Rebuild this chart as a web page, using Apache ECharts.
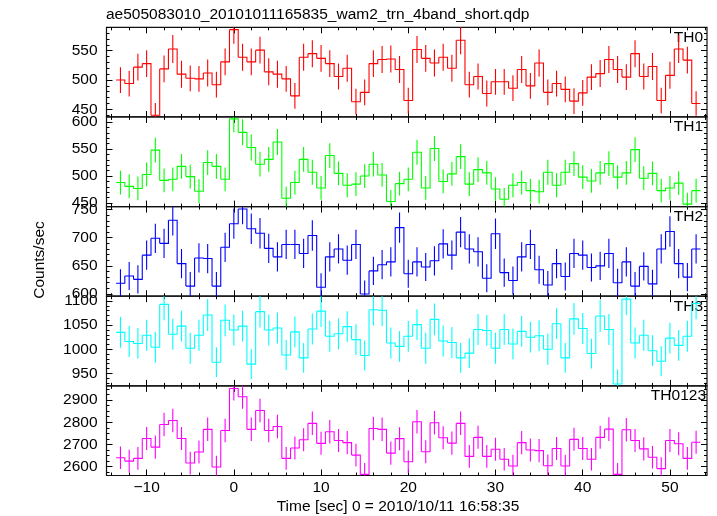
<!DOCTYPE html>
<html><head><meta charset="utf-8">
<script src="https://cdn.jsdelivr.net/npm/echarts@6/dist/echarts.min.js"></script>
<style>html,body{margin:0;padding:0;background:#fff}#c{width:717px;height:516px}</style>
</head><body><div id="c"></div>
<script>
// Bin centres (sec)
const timeBins = [-13,-12,-11,-10,-9,-8,-7,-6,-5,-4,-3,-2,-1,0,1,2,3,4,5,6,7,8,9,10,11,12,13,14,15,16,17,18,19,20,21,22,23,24,25,26,27,28,29,30,31,32,33,34,35,36,37,38,39,40,41,42,43,44,45,46,47,48,49,50,51,52,53];

const th0 = [500,494,522,528,440,519,553,510,503,502,512,492,531,
  586,539,531,551,514,510,502,473,539,545,537,528,506,520,463,479,528,535,536,518,465,
  552,537,529,539,520,568,492,506,477,497,497,486,518,490,529,479,494,484,464,478,505,511,535,518,505,545,506,523,465,508,553,534,460];
const th0Err = [22,22,23,23,21,23,24,23,22,22,23,22,23,
  24,23,23,23,23,23,22,22,23,23,23,23,22,23,22,22,23,23,23,23,22,
  23,23,23,23,23,24,22,22,22,22,22,22,23,22,23,22,22,22,22,22,22,23,23,23,22,23,22,23,22,23,24,23,21];

const th1 = [488,481,477,503,548,492,494,518,499,472,525,518,494,
  606,581,553,522,531,563,459,488,531,507,478,538,505,483,485,500,522,502,453,486,494,
  544,478,551,490,504,536,485,512,506,476,457,483,488,473,471,507,483,507,523,498,491,506,523,498,506,549,496,505,473,478,487,448,473];
const th1Err = [22,22,22,22,23,22,22,23,22,22,23,23,22,
  25,24,24,23,23,24,21,22,23,23,22,23,22,22,22,22,23,22,21,22,22,
  23,22,23,22,22,23,22,23,22,22,21,22,22,22,22,23,22,23,23,22,22,22,23,22,22,23,22,22,22,22,22,21,22];

const th2 = [619,632,626,669,699,690,731,654,614,664,663,614,683,
  725,751,716,708,681,666,688,688,672,704,612,666,680,660,688,600,641,652,657,718,636,
  657,648,659,689,669,710,680,675,628,707,638,624,666,688,643,616,654,631,672,669,647,650,672,620,657,614,649,618,680,711,654,630,680];
const th2Err = [25,25,25,26,26,26,27,26,25,26,26,25,26,
  27,27,27,27,26,26,26,26,26,27,25,26,26,26,26,24,25,26,26,27,25,
  26,25,26,26,26,27,26,26,25,27,25,25,26,26,25,25,26,25,26,26,25,25,26,25,26,25,25,25,26,27,26,25,26];

const th3 = [1035,1016,1012,1029,1004,1093,1031,1048,1002,1029,1071,973,1060,
  1040,1048,969,1078,1040,1044,988,1036,982,1042,1079,1027,1032,1047,1020,987,1082,1081,1013,1006,1027,
  1051,1002,1062,1017,1014,982,992,1041,1039,1002,1041,1011,1037,1025,1028,1000,1053,982,1063,1043,991,1069,1041,928,1104,1013,1029,997,975,1023,1008,1027,1095];
const th3Err = [32,32,32,32,32,33,32,32,32,32,33,31,33,
  32,32,31,33,32,32,31,32,31,32,33,32,32,32,32,31,33,33,32,32,32,
  32,32,33,32,32,31,31,32,32,32,32,32,32,32,32,32,32,31,33,32,31,33,32,30,33,32,32,32,31,32,32,32,33];

const th0123 = [2640,2625,2637,2727,2688,2790,2808,2727,2616,2666,2768,2598,2763,
  2952,2915,2768,2853,2763,2781,2637,2684,2721,2795,2705,2757,2718,2708,2652,2565,2772,2768,2661,2726,2622,
  2802,2667,2798,2730,2706,2795,2646,2732,2646,2678,2633,2603,2708,2675,2672,2604,2682,2603,2723,2682,2633,2732,2769,2565,2766,2718,2680,2642,2591,2718,2703,2637,2710];
const th0123Err = [51,51,51,52,52,53,53,52,51,52,53,51,53,
  54,54,53,53,53,53,51,52,52,53,52,53,52,52,51,51,53,53,52,52,51,
  53,52,53,52,52,53,51,52,51,52,51,51,52,52,52,51,52,51,52,52,51,52,53,51,53,52,52,51,51,52,52,51,52];

const panelNames = ['TH0','TH1','TH2','TH3','TH0123'];
const xTickLabels = [-10,0,10,20,30,40,50];
const yTickLabels = [[450,500,550],[450,500,550,600],[600,650,700,750],[950,1000,1050,1100],[2600,2700,2800,2900]];
const titleText = 'ae505083010_20101011165835_wam2_trn_4band_short.qdp';
const xTitle = 'Time [sec] 0 = 2010/10/11 16:58:35';
const yTitle = 'Counts/sec';

// layout / style
const series = [th0, th1, th2, th3, th0123];
const errs = [th0Err, th1Err, th2Err, th3Err, th0123Err];
const colors = ['#ff0000','#00ff00','#0000ff','#00ffff','#ff00ff'];
const yRanges = [[437,590],[443.5,609.5],[596,755.4],[924,1110],[2560,2964]];
const yMinorStep = [10,10,10,10,25];
const X_MIN = -14.6, X_MAX = 54.25;
const GRID_LEFT = 106.5, GRID_RIGHT = 10, TOP0 = 27.3, PANEL_H = 89.64;
const FONT = 'Liberation Sans';
const FS = 15.5;

function range(a, b, s) { const r = []; for (let v = a; v <= b + 1e-9; v += s) r.push(v); return r; }
const xMinorTicks = range(-14, 54, 2);

const grids = [], xAxes = [], yAxes = [], seriesOpts = [], graphics = [];
const tickStyle = {color:'#000', width:1};
const noLine = {show:false, onZero:false};

for (let i = 0; i < 5; i++) {
  const top = TOP0 + i * PANEL_H;
  grids.push({left: GRID_LEFT, right: GRID_RIGHT, top: top, height: PANEL_H,
    show: true, borderColor: '#111', borderWidth: 1.2, backgroundColor: 'transparent',
    containLabel: false, outerBoundsMode: 'none'});
  const xb = {type:'value', gridIndex:i, min:X_MIN, max:X_MAX,
    axisLine:noLine, splitLine:{show:false}, axisLabel:{show:false}};
  const xLab = (i === 4) ? {show:true, customValues: xTickLabels, margin: 4,
      fontSize: FS, fontFamily: FONT, color:'#000',
      formatter: v => String(v).replace('-', '\u2212')} : {show:false};
  xAxes.push(Object.assign({}, xb, {position:'bottom', axisTick:{show:true, inside:true, length:6, customValues:xTickLabels, lineStyle:tickStyle}, axisLabel:xLab}));
  xAxes.push(Object.assign({}, xb, {position:'bottom', axisTick:{show:true, inside:true, length:3, customValues:xMinorTicks, lineStyle:tickStyle}}));
  xAxes.push(Object.assign({}, xb, {position:'top', axisTick:{show:true, inside:true, length:6, customValues:xTickLabels, lineStyle:tickStyle}}));
  xAxes.push(Object.assign({}, xb, {position:'top', axisTick:{show:true, inside:true, length:3, customValues:xMinorTicks, lineStyle:tickStyle}}));

  const [ymin, ymax] = yRanges[i];
  const st = yMinorStep[i];
  const yMinor = range(Math.ceil(ymin / st) * st, ymax, st);
  const yb = {type:'value', gridIndex:i, min:ymin, max:ymax,
    axisLine:noLine, splitLine:{show:false}, axisLabel:{show:false}};
  yAxes.push(Object.assign({}, yb, {position:'left', axisTick:{show:true, inside:true, length:6, customValues:yTickLabels[i], lineStyle:tickStyle},
    axisLabel:{show:true, customValues:yTickLabels[i], margin:9, fontSize:FS, fontFamily:FONT, color:'#000',
      formatter: v => String(v)}}));
  yAxes.push(Object.assign({}, yb, {position:'left', axisTick:{show:true, inside:true, length:3, customValues:yMinor, lineStyle:tickStyle}}));
  yAxes.push(Object.assign({}, yb, {position:'right', axisTick:{show:true, inside:true, length:6, customValues:yTickLabels[i], lineStyle:tickStyle}}));
  yAxes.push(Object.assign({}, yb, {position:'right', axisTick:{show:true, inside:true, length:3, customValues:yMinor, lineStyle:tickStyle}}));

  const vals = series[i], ev = errs[i];
  const data = vals.map((v, k) => [timeBins[k], v, ev[k], k + 1 < vals.length ? vals[k + 1] : NaN]);
  const col = colors[i];
  seriesOpts.push({
    type:'custom', name: panelNames[i], xAxisIndex: 4 * i, yAxisIndex: 4 * i,
    clip: true, silent: true, animation: false,
    encode: {x: 0, y: 1},
    data: data,
    renderItem: function (params, api) {
      const c = api.value(0), v = api.value(1), e = api.value(2), nv = api.value(3);
      const pts = [api.coord([c - 0.5, v]), api.coord([c + 0.5, v])];
      if (!isNaN(nv)) pts.push(api.coord([c + 0.5, nv]));
      const t = api.coord([c, v + e]), b = api.coord([c, v - e]);
      return {type:'group', children:[
        {type:'polyline', shape:{points:pts}, style:{stroke:col, fill:null, lineWidth:1.1}},
        {type:'line', shape:{x1:t[0], y1:t[1], x2:b[0], y2:b[1]}, style:{stroke:col, lineWidth:1.1}}
      ]};
    }
  });
  graphics.push({type:'text', right: i === 4 ? 11 : 14, top: top + 2,
    style:{text: panelNames[i], fontSize: FS, fontFamily: FONT, fill:'#000'}});
}

graphics.push({type:'text', x: 40, y: 260, rotation: Math.PI / 2,
  style:{text: yTitle, align:'center', verticalAlign:'middle', fontSize: FS, fontFamily: FONT, fill:'#000'}});
graphics.push({type:'text', x: 398, y: 507,
  style:{text: xTitle, align:'center', verticalAlign:'middle', fontSize: FS, fontFamily: FONT, fill:'#000'}});

const chart = echarts.init(document.getElementById('c'), null, {renderer:'canvas'});
chart.setOption({
  animation: false,
  backgroundColor: '#fff',
  title: {text: titleText, left: 106, top: 7, padding: 0,
    textStyle: {fontSize: FS, fontWeight: 'normal', fontFamily: FONT, color: '#000'}},
  grid: grids,
  xAxis: xAxes,
  yAxis: yAxes,
  series: seriesOpts,
  graphic: graphics
});
</script></body></html>
